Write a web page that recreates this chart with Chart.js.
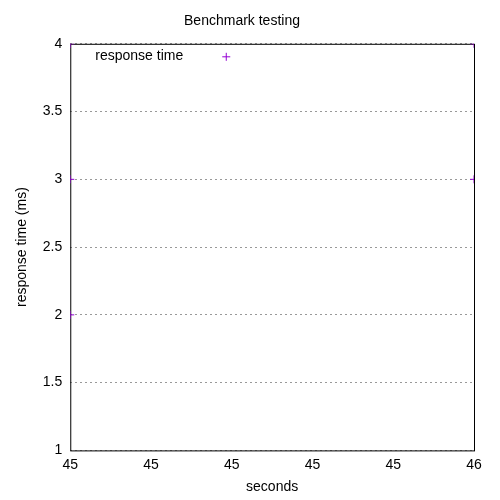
<!DOCTYPE html>
<html>
<head>
<script src="https://cdn.jsdelivr.net/npm/chart.js@4"></script>
<style>body{margin:0;background:#fff}#wrap{width:500px;height:500px}</style>
</head>
<body>
<div id="wrap"><canvas id="c"></canvas></div>
<script>
const seconds = [45, 45, 45, 46, 46];
const responseTime = [2, 3, 4, 3, 4];
const xTickLabels = ['45', '45', '45', '45', '45', '46'];
const seriesName = 'response time';

const purple = '#9400d3';

// gnuplot-style key drawn inside the plot area
const keyPlugin = {
  id: 'key',
  afterDraw(chart) {
    const { ctx, chartArea } = chart;
    ctx.save();
    ctx.font = '14px "Liberation Sans", Arial, sans-serif';
    ctx.fillStyle = '#000';
    ctx.textBaseline = 'middle';
    ctx.fillText(seriesName, chartArea.left + 25, chartArea.top + 12);
    const px = chartArea.left + 156, py = chartArea.top + 13;
    ctx.strokeStyle = purple;
    ctx.lineWidth = 1;
    ctx.beginPath();
    ctx.moveTo(px - 4, py); ctx.lineTo(px + 4, py);
    ctx.moveTo(px, py - 4); ctx.lineTo(px, py + 4);
    ctx.stroke();
    ctx.restore();
  }
};

// full frame around plot area, under the points
const framePlugin = {
  id: 'frame',
  beforeDatasetsDraw(chart) {
    const { ctx, chartArea: a } = chart;
    ctx.save();
    ctx.strokeStyle = '#000';
    ctx.lineWidth = 1;
    ctx.strokeRect(a.left + 0.5, a.top + 0.5, a.right - a.left, a.bottom - a.top);
    ctx.restore();
  }
};

const font = { family: '"Liberation Sans", Arial, sans-serif', size: 14 };

new Chart(document.getElementById('c'), {
  type: 'scatter',
  data: {
    datasets: [{
      label: seriesName,
      data: seconds.map((x, i) => ({ x, y: responseTime[i] })),
      pointStyle: 'cross',
      pointRadius: 4,
      borderColor: purple,
      backgroundColor: purple,
      borderWidth: 1,
      clip: 0
    }]
  },
  options: {
    responsive: true,
    maintainAspectRatio: false,
    animation: false,
    layout: { padding: { right: 26, top: 3, left: 10, bottom: 0 } },
    plugins: {
      legend: { display: false },
      tooltip: { enabled: false },
      title: {
        display: true,
        text: 'Benchmark testing',
        color: '#000',
        font: { ...font, weight: 'normal' },
        padding: { top: 10, bottom: 14 }
      }
    },
    scales: {
      x: {
        type: 'linear',
        min: 45, max: 46,
        grid: { display: false, drawTicks: false },
        border: { display: false },
        ticks: {
          stepSize: 0.2,
          color: '#000',
          font,
          padding: 6,
          callback: (v, i) => xTickLabels[i]
        },
        title: { display: true, text: 'seconds', color: '#000', font, padding: { top: 0 } }
      },
      y: {
        min: 1, max: 4,
        grid: { color: '#999', drawTicks: false },
        border: { display: false, dash: [2, 3] },
        ticks: { stepSize: 0.5, color: '#000', font, padding: 8, callback: v => String(v) },
        title: { display: true, text: 'response time (ms)', color: '#000', font, padding: { bottom: 4 } }
      }
    }
  },
  plugins: [framePlugin, keyPlugin]
});
</script>
</body>
</html>
